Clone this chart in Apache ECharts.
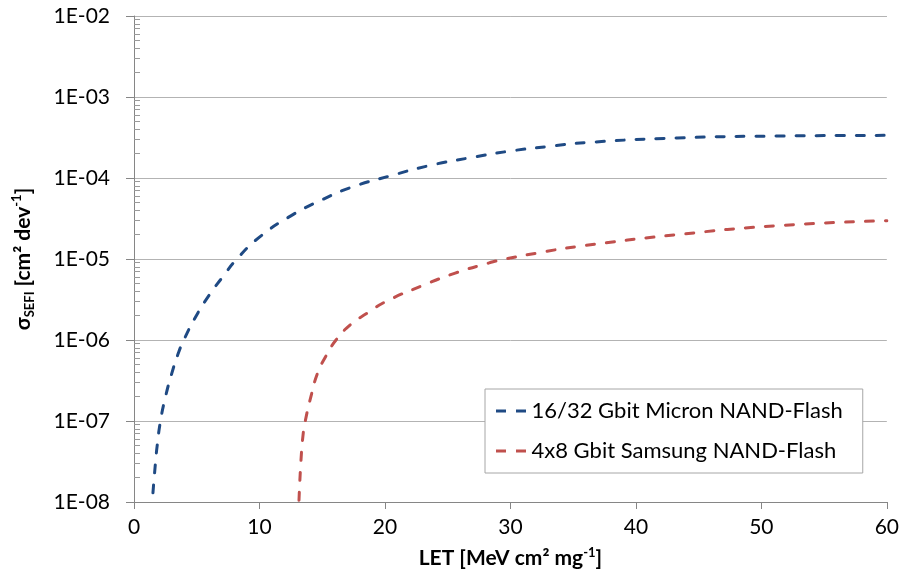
<!DOCTYPE html>
<html>
<head>
<meta charset="utf-8">
<script src="https://cdn.jsdelivr.net/npm/echarts@6/dist/echarts.min.js"></script>
<style>html,body{margin:0;padding:0;background:#fff}#c{width:902px;height:586px}</style>
</head>
<body>
<div id="c"></div>
<script>
var seriesNames = ['16/32 Gbit Micron NAND-Flash', '4x8 Gbit Samsung NAND-Flash'];
var micronLET   = [1.51, 1.72, 1.85, 2.11, 2.5, 3.0, 3.5, 3.97, 5.0, 6.0, 7.0, 8.2, 10.0, 12.5, 15.0, 17.5, 20.3, 23.5, 26.7, 29.8, 33.0, 36.2, 43.3, 51.3, 60];
var micronSigma = [1.3e-8, 3.16e-8, 5.0e-8, 1.0e-7, 1.96e-7, 3.82e-7, 6.65e-7, 1.0e-6, 2.04e-6, 3.59e-6, 5.82e-6, 1.0e-5, 1.86e-5, 3.41e-5, 5.4e-5, 7.85e-5, 1.05e-4, 1.42e-4, 1.77e-4, 2.13e-4, 2.45e-4, 2.75e-4, 3.12e-4, 3.3e-4, 3.36e-4];
var samsungLET   = [13.15, 13.31, 13.49, 13.65, 14.1, 14.63, 15.29, 16.1, 17.27, 18.6, 20.1, 23.0, 25.6, 28.25, 29.6, 32.2, 35.4, 43.3, 51.3, 60];
var samsungSigma = [1.05e-8, 3.3e-8, 7.1e-8, 1.0e-7, 2.0e-7, 3.9e-7, 6.3e-7, 1.0e-6, 1.55e-6, 2.15e-6, 3.0e-6, 4.7e-6, 6.7e-6, 8.9e-6, 1.0e-5, 1.19e-5, 1.43e-5, 2.0e-5, 2.58e-5, 2.97e-5];
var xTicks = [0, 10, 20, 30, 40, 50, 60];
var yTickLabels = ['1E-08', '1E-07', '1E-06', '1E-05', '1E-04', '1E-03', '1E-02'];

function pairs(xs, ys) { return xs.map(function (x, i) { return [x, ys[i]]; }); }
var minorTicks = [];
for (var e = -8; e < -2; e++) { for (var m = 2; m <= 9; m++) { minorTicks.push(m * Math.pow(10, e)); } }

var FONT = 'Lato';
var DASH_ICON = 'path://M0,0L10,0L10,3L0,3Z M20,0L30,0L30,3L20,3Z';
var chart = echarts.init(document.getElementById('c'), null, { renderer: 'canvas' });
chart.setOption({
  animation: false,
  backgroundColor: '#ffffff',
  textStyle: { fontFamily: FONT },
  grid: { left: 134, right: 12, top: 16, bottom: 84, containLabel: false },
  legend: {
    orient: 'vertical', left: 485, top: 389,
    data: seriesNames.map(function (n) { return { name: n, icon: DASH_ICON }; }),
    backgroundColor: '#ffffff', borderColor: '#a6a6a6', borderWidth: 1,
    padding: [11, 20, 11, 11], itemGap: 18, itemWidth: 31, itemHeight: 3,
    textStyle: { fontFamily: FONT, fontSize: 22, color: '#000' }
  },
  xAxis: {
    type: 'value', min: 0, max: 60, interval: 10,
    name: '{b|LET [MeV cm² mg}{sup|-1}{b|]}', nameLocation: 'middle', nameGap: 44,
    nameTextStyle: { rich: {
      b: { fontFamily: FONT, fontSize: 21, fontWeight: 'bold', color: '#000', lineHeight: 24 },
      sup: { fontFamily: FONT, fontSize: 13, fontWeight: 'bold', color: '#000', verticalAlign: 'top', lineHeight: 24 }
    } },
    axisLine: { show: true, lineStyle: { color: '#868686', width: 1 } },
    axisTick: { show: true, length: 7, lineStyle: { color: '#868686' } },
    axisLabel: { fontFamily: FONT, fontSize: 21, color: '#000', margin: 15,
      formatter: function (v) { return xTicks.indexOf(v) >= 0 ? String(v) : ''; } },
    splitLine: { show: false }
  },
  yAxis: [{
    type: 'log', logBase: 10, min: 1e-8, max: 1e-2, interval: 1, splitNumber: 6,
    name: '{b|σ}{sub|SEFI}{b| [cm² dev}{sup|-1}{b|]}', nameLocation: 'middle', nameGap: 98, nameRotate: 90,
    nameTextStyle: { rich: {
      b: { fontFamily: FONT, fontSize: 21, fontWeight: 'bold', color: '#000', lineHeight: 26 },
      sub: { fontFamily: FONT, fontSize: 13, fontWeight: 'bold', color: '#000', verticalAlign: 'bottom', lineHeight: 26 },
      sup: { fontFamily: FONT, fontSize: 13, fontWeight: 'bold', color: '#000', verticalAlign: 'top', lineHeight: 26 }
    } },
    axisLine: { show: true, lineStyle: { color: '#868686', width: 1 } },
    axisTick: { show: true, length: 8, lineStyle: { color: '#868686' } },
    axisLabel: { fontFamily: FONT, fontSize: 21, color: '#000', margin: 24,
      formatter: function (v) { var i = Math.round(Math.log10(v)) + 8; return yTickLabels[i] || ''; } },
    splitLine: { show: true, lineStyle: { color: '#b3b3b3', width: 1 } }
  }, {
    type: 'log', logBase: 10, min: 1e-8, max: 1e-2, position: 'left',
    axisLine: { show: false },
    axisLabel: { show: false },
    splitLine: { show: false },
    axisTick: { show: true, inside: true, length: 6, customValues: minorTicks, lineStyle: { color: '#9a9a9a' } }
  }],
  series: [{
    name: seriesNames[0], type: 'line', data: pairs(micronLET, micronSigma),
    showSymbol: false, symbol: 'none', smooth: true, clip: true,
    lineStyle: { color: '#1F4A84', width: 3, type: [8, 12], cap: 'round' },
    itemStyle: { color: '#1F4A84' }
  }, {
    name: seriesNames[1], type: 'line', data: pairs(samsungLET, samsungSigma),
    showSymbol: false, symbol: 'none', smooth: true, clip: true,
    lineStyle: { color: '#C0504D', width: 3, type: [8, 12], cap: 'round' },
    itemStyle: { color: '#C0504D' }
  }]
});
</script>
</body>
</html>
